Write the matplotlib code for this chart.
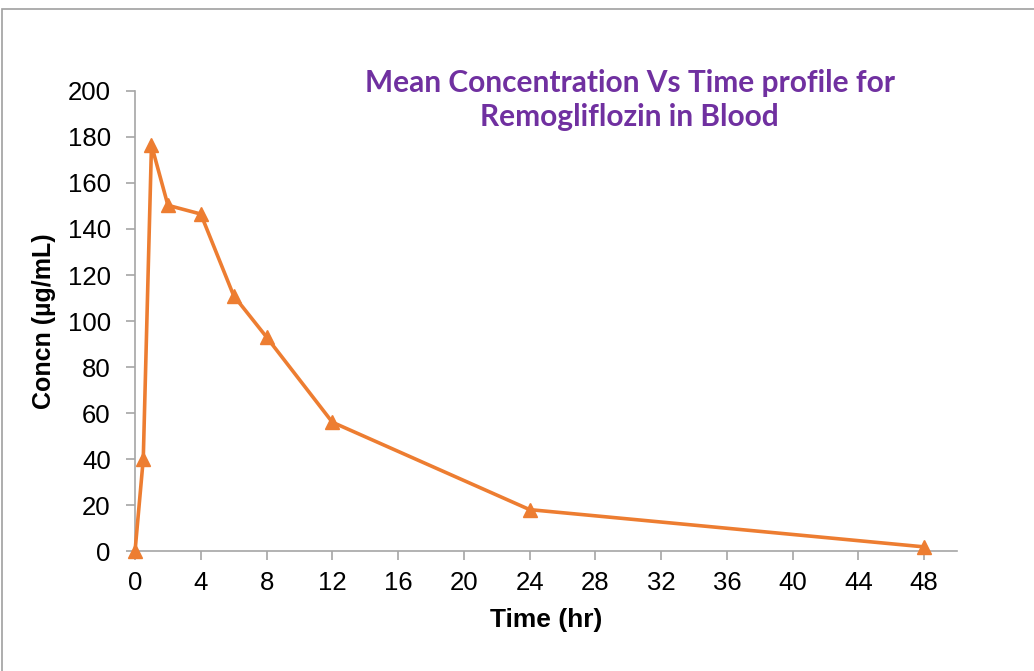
import numpy as np
import matplotlib.pyplot as plt
from matplotlib.patches import Rectangle

# Mean concentration data
time_hr = [0, 0.5, 1, 2, 4, 6, 8, 12, 24, 48]
concn = [0, 40, 176.5, 150.3, 146.5, 111, 93, 56, 18, 1.8]
x_ticks = list(range(0, 49, 4))
y_ticks = list(range(0, 201, 20))

fig = plt.figure(figsize=(10.34, 6.71), dpi=100)
fig.patches.append(Rectangle((0.002, -0.01), 1.2, 0.997, transform=fig.transFigure,
                             fill=False, edgecolor='#a0a0a0', linewidth=1.2))
ax = fig.add_axes([0.1306, 0.1788, 0.795, 0.6856])

ax.plot(time_hr, concn, color='#ED7D31', linewidth=2.6, marker='^', markersize=10,
        markerfacecolor='#ED7D31', markeredgecolor='#ED7D31', clip_on=False, zorder=3)

ax.set_xlim(0, 50)
ax.set_ylim(0, 200)
ax.set_xticks(x_ticks)
ax.set_yticks(y_ticks)
for s in ['top', 'right']:
    ax.spines[s].set_visible(False)
for s in ['left', 'bottom']:
    ax.spines[s].set_color('#a6a6a6')
    ax.spines[s].set_linewidth(1.2)
ax.tick_params(axis='both', colors='#a6a6a6', labelcolor='black', length=6.5, width=1.2,
               labelsize=18.5)
ax.tick_params(axis='x', pad=8)
ax.tick_params(axis='y', pad=11)
for lbl in ax.get_xticklabels() + ax.get_yticklabels():
    lbl.set_family('Liberation Sans')

ax.set_xlabel('Time (hr)', fontsize=19, fontweight='bold', family='Liberation Sans', labelpad=9)
ax.set_ylabel('Concn (µg/mL)', fontsize=18, fontweight='bold', family='Liberation Sans', labelpad=8)

fig.text(0.609, 0.851, 'Mean Concentration Vs Time profile for\nRemogliflozin in Blood',
         ha='center', va='center', fontsize=21.5, fontweight='bold', color='#7030A0',
         family='Lato', linespacing=1.3)

plt.savefig('out.png', dpi=100)
